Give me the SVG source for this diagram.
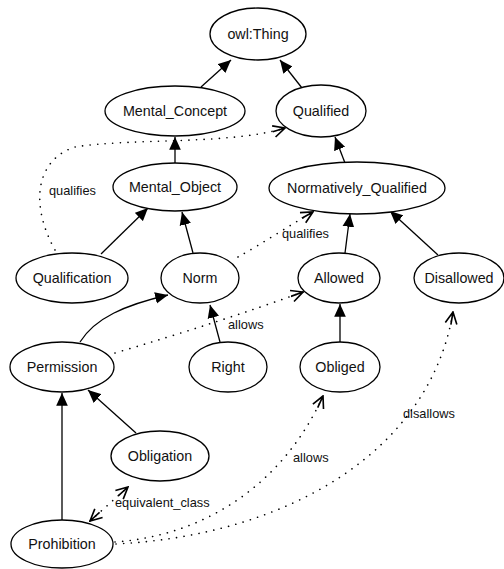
<svg xmlns="http://www.w3.org/2000/svg" width="504" height="569" viewBox="0 0 504 569">
<style>
.n ellipse{fill:#fff;stroke:#000;stroke-width:1.3}
.n text{font-family:"Liberation Sans",Arial,sans-serif;font-size:14.3px;text-anchor:middle;fill:#111}
.s{fill:none;stroke:#000;stroke-width:1.3}
.d{fill:none;stroke:#000;stroke-width:1.6;stroke-dasharray:0.1 7.5;stroke-linecap:round}
.l{font-family:"Liberation Sans",Arial,sans-serif;font-size:12.8px;fill:#111}
</style>
<defs>
<marker id="fa" markerUnits="userSpaceOnUse" markerWidth="14" markerHeight="12" refX="11" refY="5" orient="auto" viewBox="0 0 12 10">
<path d="M0,0 L11,5 L0,10 z" fill="#000"/>
</marker>
<marker id="oa" markerUnits="userSpaceOnUse" markerWidth="14" markerHeight="14" refX="11" refY="6" orient="auto-start-reverse" viewBox="0 0 12 12">
<path d="M1,1 L11,6 L1,11 M0,6 L11,6" fill="none" stroke="#000" stroke-width="1.4"/>
</marker>
</defs>
<g id="connectors">
<path class="s" marker-end="url(#fa)" d="M201,87 L231,60"/>
<path class="s" marker-end="url(#fa)" d="M302,88 L280,60"/>
<path class="s" marker-end="url(#fa)" d="M175,163 L175,137"/>
<path class="s" marker-end="url(#fa)" d="M345,163 L335,137"/>
<path class="s" marker-end="url(#fa)" d="M101,254 L148,208"/>
<path class="s" marker-end="url(#fa)" d="M193,253 L182,212"/>
<path class="s" marker-end="url(#fa)" d="M345,253 L350,214"/>
<path class="s" marker-end="url(#fa)" d="M438,255 L390,211"/>
<path class="s" marker-end="url(#fa)" d="M80,342 C95,318 125,305 168,295"/>
<path class="s" marker-end="url(#fa)" d="M220,342 L210,305"/>
<path class="s" marker-end="url(#fa)" d="M340,342 L340,304"/>
<path class="s" marker-end="url(#fa)" d="M62,520 L62,393"/>
<path class="s" marker-end="url(#fa)" d="M136,433 L88,390"/>
<path class="d" marker-end="url(#oa)" d="M55,250 C30,205 35,160 75,147 C130,138 230,145 285,128"/>
<path class="d" marker-end="url(#oa)" d="M238,257 C260,245 290,225 313,212"/>
<path class="d" marker-end="url(#oa)" d="M115,353 Q220,322 303,292"/>
<path class="d" marker-end="url(#oa)" d="M115,542 C210,535 285,480 323,396"/>
<path class="d" marker-end="url(#oa)" d="M116,544 C290,535 430,450 453,312"/>
<path class="d" marker-start="url(#oa)" marker-end="url(#oa)" d="M90,521 L128,487"/>
<text class="l" x="49" y="195">qualifies</text>
<text class="l" x="282" y="238">qualifies</text>
<text class="l" x="228" y="329">allows</text>
<text class="l" x="403" y="418">disallows</text>
<text class="l" x="293" y="462">allows</text>
<text class="l" x="115" y="507">equivalent_class</text>
</g>
<g id="owl_Thing" class="n"><ellipse cx="258" cy="34" rx="48" ry="26"/><text x="258" y="39">owl:Thing</text></g>
<g id="Mental_Concept" class="n"><ellipse cx="175" cy="111" rx="70" ry="25"/><text x="175" y="116">Mental_Concept</text></g>
<g id="Qualified" class="n"><ellipse cx="321" cy="111" rx="45" ry="26"/><text x="321" y="116">Qualified</text></g>
<g id="Mental_Object" class="n"><ellipse cx="175" cy="187" rx="62" ry="24"/><text x="175" y="192">Mental_Object</text></g>
<g id="Normatively_Qualified" class="n"><ellipse cx="357" cy="188" rx="88" ry="26"/><text x="357" y="193">Normatively_Qualified</text></g>
<g id="Qualification" class="n"><ellipse cx="72" cy="278" rx="56" ry="25"/><text x="72" y="283">Qualification</text></g>
<g id="Norm" class="n"><ellipse cx="200" cy="278" rx="39" ry="25"/><text x="200" y="283">Norm</text></g>
<g id="Allowed" class="n"><ellipse cx="339" cy="278" rx="41" ry="25"/><text x="339" y="283">Allowed</text></g>
<g id="Disallowed" class="n"><ellipse cx="459" cy="278" rx="45" ry="25"/><text x="459" y="283">Disallowed</text></g>
<g id="Permission" class="n"><ellipse cx="62" cy="367" rx="52" ry="25"/><text x="62" y="372">Permission</text></g>
<g id="Right" class="n"><ellipse cx="228" cy="367" rx="39" ry="25"/><text x="228" y="372">Right</text></g>
<g id="Obliged" class="n"><ellipse cx="340" cy="367" rx="40" ry="25"/><text x="340" y="372">Obliged</text></g>
<g id="Obligation" class="n"><ellipse cx="160" cy="456" rx="49" ry="25"/><text x="160" y="461">Obligation</text></g>
<g id="Prohibition" class="n"><ellipse cx="62" cy="544" rx="51" ry="24"/><text x="62" y="549">Prohibition</text></g>
</svg>
